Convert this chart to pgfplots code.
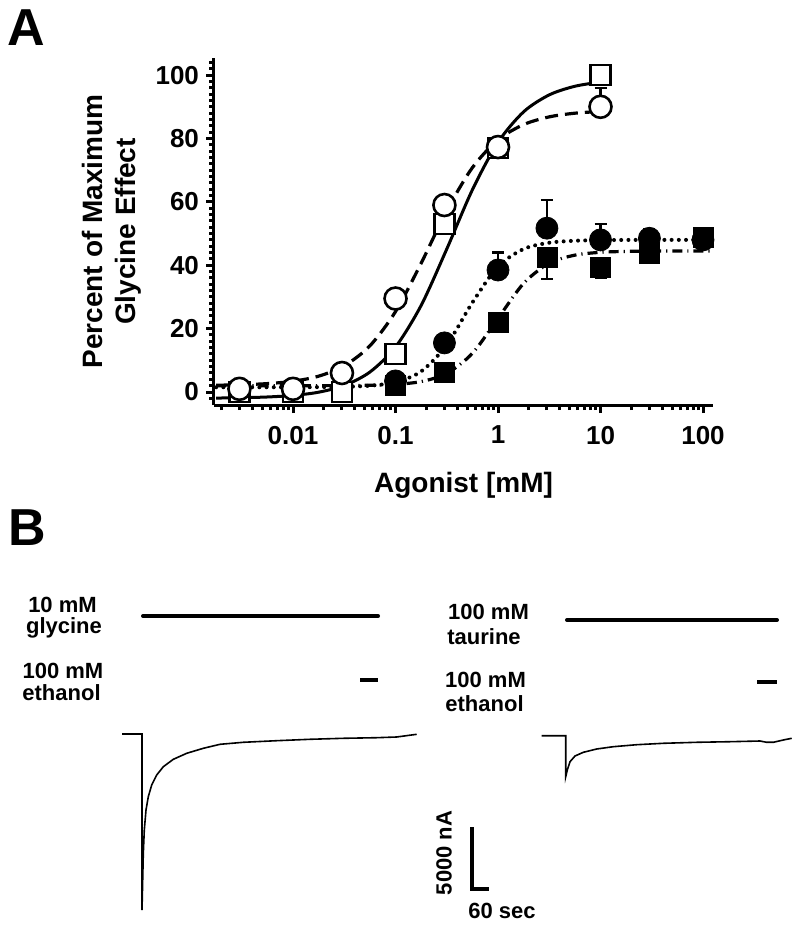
\documentclass[border=0pt]{standalone}
\usepackage{fontspec}
\setmainfont{Liberation Sans}
\usepackage{pgfplots}
\pgfplotsset{compat=1.18}
\begin{document}
\begin{tikzpicture}[font=\bfseries]
\path[use as bounding box] (0,0) rectangle (400pt,-464.5pt);
\node[font=\bfseries\fontsize{26}{26}\selectfont] at (13pt,-14pt) {A};
\node[font=\bfseries\fontsize{26}{26}\selectfont] at (13.5pt,-264pt) {B};
\begin{axis}[
  at={(107pt,-202.5pt)}, anchor=south west,
  scale only axis, width=249.5pt, height=173.5pt,
  xmode=log, xmin=0.001694, xmax=125.2, ymin=-4.1, ymax=105.4,
  axis lines*=left,
  axis line style={line width=1.5pt},
  tick align=outside,
  xtick={0.01,0.1,1,10,100}, xticklabels={0.01,0.1,1,10,100},
  minor xtick={0.002,0.003,0.004,0.005,0.006,0.007,0.008,0.009,0.02,0.03,0.04,0.05,0.06,0.07,0.08,0.09,0.2,0.3,0.4,0.5,0.6,0.7,0.8,0.9,2,3,4,5,6,7,8,9,20,30,40,50,60,70,80,90},
  ytick={0,20,40,60,80,100},
  minor ytick={2,4,6,8,10,12,14,16,18,22,24,26,28,30,32,34,36,38,42,44,46,48,50,52,54,56,58,62,64,66,68,70,72,74,76,78,82,84,86,88,90,92,94,96,98,102,104,-2},
  major tick length=4pt, minor tick length=2.5pt,
  every tick/.style={line width=1.5pt, black},
  /pgf/number format/assume math mode=true,
  ticklabel style={font=\bfseries\fontsize{13}{13}\selectfont},
  xticklabel style={yshift=-3pt},
  xlabel={Agonist [mM]},
  ylabel={Percent of Maximum\\Glycine Effect},
  xlabel style={font=\bfseries\fontsize{14}{16.5}\selectfont, at={(axis description cs:0.5,-0.2305)}, anchor=center},
  ylabel style={font=\bfseries\fontsize{14}{16.5}\selectfont, align=center, at={(axis description cs:-0.2054,0.5)}, anchor=center},
  clip=false,
]
% fitted curves
\addplot[black, line width=1.5pt, smooth] coordinates {
(0.001778,-1.91) (0.003162,-1.80) (0.005623,-1.57) (0.01,-1.08) (0.01778,-0.06) (0.03162,2.06) (0.05623,6.30) (0.1,14.22) (0.1778,27.32) (0.3162,45.12) (0.5623,63.81) (1,78.79) (1.778,88.42) (3.162,93.76) (5.623,96.48) (10,97.81)};
\addplot[black, line width=1.6pt, smooth, dash pattern=on 6.5pt off 3.5pt] coordinates {
(0.001778,2.14) (0.003162,2.30) (0.005623,2.65) (0.01,3.40) (0.01778,5.00) (0.03162,8.27) (0.05623,14.57) (0.1,25.38) (0.1778,40.64) (0.3162,57.23) (0.5623,70.80) (1,79.57) (1.778,84.39) (3.162,86.82) (5.623,87.98) (10,88.53)};
\addplot[black, line width=2pt, smooth, line cap=round, dash pattern=on 0pt off 3.6pt] coordinates {
(0.001778,1.5) (0.003162,1.5) (0.005623,1.5) (0.01,1.51) (0.01778,1.54) (0.03162,1.65) (0.05623,1.99) (0.1,3.11) (0.1778,6.50) (0.3162,14.87) (0.5623,28.23) (1,39.59) (1.778,45.13) (3.162,47.10) (5.623,47.73) (10,47.92) (17.78,47.98) (31.62,48.0) (56.23,48.0) (100,48.0)};
\addplot[black, line width=1.6pt, smooth, dash pattern=on 5pt off 2.5pt on 0.6pt off 2.5pt] coordinates {
(0.001778,2.00) (0.003162,2.00) (0.005623,2.00) (0.01,2.00) (0.01778,2.01) (0.03162,2.04) (0.05623,2.13) (0.1,2.42) (0.1778,3.30) (0.3162,5.86) (0.5623,12.21) (1,23.25) (1.778,34.29) (3.162,40.64) (5.623,43.19) (10,44.08) (17.78,44.37) (31.62,44.46) (56.23,44.49) (100,44.50) (125,44.50)};
% data
\addplot[only marks, mark=square*, mark size=5pt, mark options={fill=white, draw=black, line width=1.3pt}] coordinates {
(0.003,0) (0.01,0) (0.03,0) (0.1,12) (0.3,53) (1,77) (10,100)};
\addplot[only marks, mark=*, mark size=5.5pt, mark options={fill=white, draw=black, line width=1.3pt},
  error bars/.cd, y dir=plus, y explicit, error bar style={line width=1.2pt, black}, error mark options={rotate=90, mark size=3pt, line width=1.2pt, black}] coordinates {
(0.003,1) +- (0,0) (0.01,1) +- (0,0) (0.03,6) +- (0,0) (0.1,29.5) +- (0,0) (0.3,59) +- (0,0) (1,77.3) +- (0,0) (10,90) +- (0,6)};
\addplot[only marks, mark=*, mark size=5.5pt, mark options={fill=black, draw=black},
  error bars/.cd, y dir=plus, y explicit, error bar style={line width=1.2pt, black}, error mark options={rotate=90, mark size=3pt, line width=1.2pt, black}] coordinates {
(0.1,3.5) +- (0,0) (0.3,15.5) +- (0,0) (1,38.5) +- (0,5.5) (3,51.7) +- (0,8.9) (10,48) +- (0,5) (30,48.5) +- (0,3) (100,48) +- (0,0)};
\addplot[only marks, mark=square*, mark size=5pt, mark options={fill=black, draw=black},
  error bars/.cd, y dir=minus, y explicit, error bar style={line width=1.2pt, black}, error mark options={rotate=90, mark size=3pt, line width=1.2pt, black}] coordinates {
(0.1,2.2) +- (0,0) (0.3,6.3) +- (0,0) (1,22) +- (0,0) (3,42.6) +- (0,7) (10,39.4) +- (0,3.4) (30,43.8) +- (0,2.8) (100,48.9) +- (0,2.9)};
\end{axis}

% Panel B
\begin{axis}[
  at={(0pt,-464.5pt)}, anchor=south west,
  scale only axis, width=400pt, height=224.5pt,
  xmin=-501.2, xmax=2322.4, ymin=-15725.8, ymax=20483.9,
  hide axis, clip=false,
]
% application bars
\addplot[black, line width=2pt, line cap=round] coordinates {(3.5,9516) (833,9516)};
\addplot[black, line width=2pt] coordinates {(769.4,4355) (833,4355)};
\addplot[black, line width=2pt, line cap=round] coordinates {(1500,9194) (2241,9194)};
\addplot[black, line width=2pt] coordinates {(2170.6,4194) (2241,4194)};
% glycine trace
\addplot[black, line width=0.8pt] coordinates {
(-70.6,0) (0,0) (0,-14194) (4.6,-9621) (8.1,-7742) (14.1,-6129) (22.2,-5056) (34.2,-4113) (51.9,-3306) (75.2,-2637) (110.5,-2040) (157.8,-1556) (216.4,-1153) (275.3,-831) (357.5,-669) (475.4,-540) (592.9,-427) (710.5,-347) (828.3,-298) (898.9,-242) (969.5,-24)};
% taurine trace
\addplot[black, line width=0.8pt] coordinates {
(1410.7,-137) (1495.4,-137) (1495.4,-3444) (1501.1,-2903) (1510.6,-2234) (1528.2,-1774) (1557.5,-1476) (1604.8,-1210) (1663.4,-1024) (1746,-863) (1839.9,-750) (1957.8,-669) (2075.3,-621) (2181.2,-565) (2204.8,-669) (2228.1,-669) (2263.4,-484) (2293.1,-347)};
% scale bar: 5000 nA, 60 s
\addplot[black, line width=1.6pt] coordinates {(1164.7,-7500) (1164.7,-12500) (1224.7,-12500)};
\end{axis}

\begin{scope}[every node/.style={font=\bfseries\fontsize{11}{11}\selectfont, anchor=base, inner sep=0pt}]
\node at (31.25pt,-306pt) {10 mM};
\node at (32pt,-316.5pt) {glycine};
\node at (31.5pt,-339pt) {100 mM};
\node at (30.75pt,-350.3pt) {ethanol};
\node at (244.25pt,-309.6pt) {100 mM};
\node at (242pt,-322.1pt) {taurine};
\node at (242.75pt,-343.8pt) {100 mM};
\node at (242.25pt,-355.5pt) {ethanol};
\node at (251pt,-459pt) {60 sec};
\node[rotate=90, anchor=center] at (222pt,-426.5pt) {5000 nA};
\end{scope}
\end{tikzpicture}
\end{document}
